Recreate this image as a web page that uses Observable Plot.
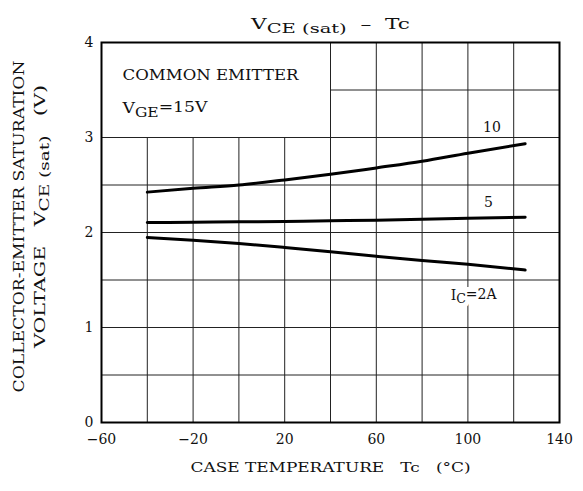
<!DOCTYPE html>
<html>
<head>
<meta charset="utf-8">
<script src="https://cdn.jsdelivr.net/npm/d3@7"></script>
<script src="https://cdn.jsdelivr.net/npm/@observablehq/plot@0.6"></script>
<style>
  html, body { margin: 0; padding: 0; background: #fff; }
  svg text { white-space: pre; }
</style>
</head>
<body>
<div id="chart"></div>
<script>
// ---- data ----
const temps = [-40, -20, 0, 20, 40, 60, 80, 100, 125];
const ic10 = [2.425, 2.465, 2.50, 2.553, 2.612, 2.68, 2.75, 2.835, 2.935];
const ic5  = [2.105, 2.108, 2.112, 2.117, 2.123, 2.13, 2.14, 2.15, 2.16];
const ic2  = [1.947, 1.919, 1.884, 1.842, 1.797, 1.75, 1.705, 1.665, 1.605];
const xTicks = [-60, -20, 20, 60, 100, 140];
const yTicks = [0, 1, 2, 3, 4];
const xGrid = [-40, -20, 0, 20, 40, 60, 80, 100, 120];
const yGrid = [0.5, 1, 1.5, 2, 2.5, 3, 3.5];
const boxCornerX = 40, boxCornerY = 3;
const curveLabels = [
  {x: 110.5, y: 3.11, text: "10"},
  {x: 109, y: 2.32, text: "5"},
  {x: 102.5, y: 1.34, text: "I_{C}=2A"}
];
const noteLines = [
  {y: 3.65, text: "COMMON EMITTER"},
  {y: 3.31, text: "V_{GE}=15V"}
];
const titleText = "V_{CE (sat)}  \u2013  Tc";
const xLabel = "CASE TEMPERATURE   Tc   (\u00b0C)";
const yLabel1 = "COLLECTOR-EMITTER SATURATION";
const yLabel2 = "VOLTAGE   V_{CE (sat)}   (V)";

const rows = (vals, ic) => temps.map((t, i) => ({t, v: vals[i], ic}));
const series = [...rows(ic10, "10"), ...rows(ic5, "5"), ...rows(ic2, "2")];

const FONT = "DejaVu Serif";
const T = {fontFamily: FONT, fill: "#111"};

const plot = Plot.plot({
  width: 583,
  height: 491,
  marginTop: 42,
  marginRight: 24,
  marginBottom: 69,
  marginLeft: 101,
  style: {fontFamily: FONT, fontSize: "14px", color: "#111", background: "#fff"},
  x: {domain: [-60, 140]},
  y: {domain: [0, 4]},
  marks: [
    // grid
    Plot.ruleX(xGrid, {x: d => d, y1: 0, y2: d => d < boxCornerX ? boxCornerY : 4, stroke: "#222", strokeWidth: 1}),
    Plot.ruleY(yGrid, {y: d => d, x1: d => d > boxCornerY ? boxCornerX : -60, x2: 140, stroke: "#222", strokeWidth: 1}),
    // curve label halos, then labels
    Plot.text(curveLabels, {x: "x", y: "y", text: "text", fontSize: 14, fontFamily: FONT, fill: "white", stroke: "white", strokeWidth: 10, textAnchor: "middle"}),
    Plot.text(curveLabels, {x: "x", y: "y", text: "text", fontSize: 14, ...T, textAnchor: "middle"}),
    // note
    Plot.text(noteLines, {x: -60, y: "y", text: "text", dx: 21, textAnchor: "start", fontSize: 14.5, ...T}),
    // curves
    Plot.line(series, {x: "t", y: "v", z: "ic", stroke: "#000", strokeWidth: 3, curve: "monotone-x"}),
    Plot.frame({stroke: "#000", strokeWidth: 2}),
    // axes
    Plot.axisX({ticks: xTicks, tickSize: 0, tickPadding: 12, fontSize: 14, fontFamily: FONT,
      tickFormat: d => d < 0 ? "\u2212" + Math.abs(d) : String(d)}),
    Plot.axisY({ticks: yTicks, tickSize: 0, tickPadding: 8, fontSize: 14, fontFamily: FONT, tickFormat: d => String(d)}),
    // titles
    Plot.text([titleText], {frameAnchor: "top", dy: -24, text: d => d, fontSize: 15, textAnchor: "middle", ...T}),
    Plot.text([xLabel], {frameAnchor: "bottom", dy: 49, text: d => d, fontSize: 13.5, textAnchor: "middle", ...T}),
    Plot.text([yLabel1], {frameAnchor: "left", dx: -82, dy: -6, rotate: -90, text: d => d, fontSize: 14.5, textAnchor: "middle", ...T}),
    Plot.text([yLabel2], {frameAnchor: "left", dx: -61, dy: -16, rotate: -90, text: d => d, fontSize: 14.5, textAnchor: "middle", ...T})
  ]
});

// stretch wide serif lettering to the reference widths
const stretch = new Map([
  [titleText, 159],
  [xLabel, 280],
  [yLabel1, 332],
  [yLabel2, 263],
  ["COMMON EMITTER", 176],
  ["V_{GE}=15V", 85]
]);
d3.select(plot).selectAll("text").each(function() {
  const L = stretch.get(this.textContent);
  if (L) d3.select(this).attr("textLength", L).attr("lengthAdjust", "spacingAndGlyphs");
});

// convert _{...} markers into subscript tspans
d3.select(plot).selectAll("text").each(function() {
  const t = this.textContent;
  if (!t.includes("_{")) return;
  const el = d3.select(this);
  el.text(null);
  const parts = t.split(/(_\{[^}]*\})/);
  let shifted = false;
  for (const p of parts) {
    if (!p) continue;
    if (p.startsWith("_{")) {
      el.append("tspan").attr("dy", "0.3em").attr("font-size", "0.9em").text(p.slice(2, -1));
      shifted = true;
    } else {
      const ts = el.append("tspan").text(p);
      if (shifted) { ts.attr("dy", "-0.3em"); shifted = false; }
    }
  }
});

document.getElementById("chart").appendChild(plot);
</script>
</body>
</html>
